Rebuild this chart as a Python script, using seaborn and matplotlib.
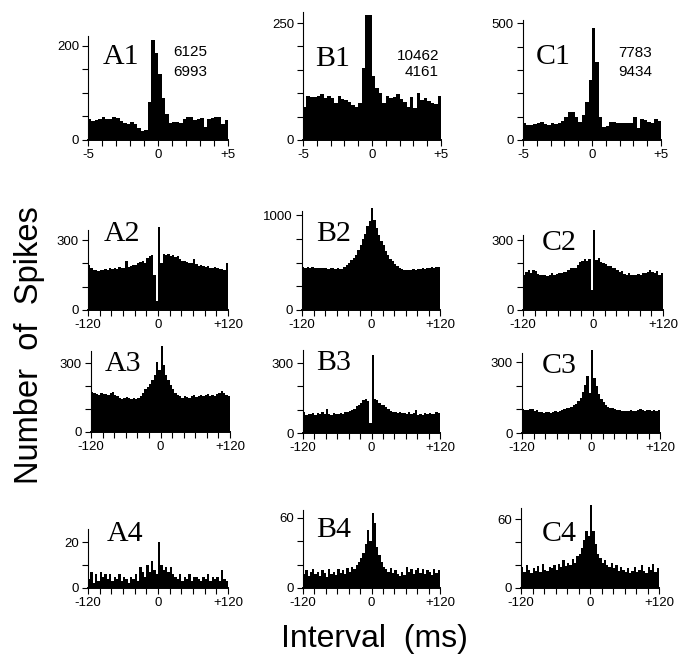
import numpy as np
import pandas as pd
import matplotlib
matplotlib.use("Agg")
import matplotlib.pyplot as plt
import seaborn as sns

# ---------------- data (counts per bin) ----------------
# Row 1: interval -5..+5 ms, 40 bins
A1 = [45, 41, 42, 44, 50, 44, 45, 48, 46, 40, 36, 35, 38, 33, 26, 20, 21, 80, 212, 185,
      140, 90, 55, 36, 38, 39, 37, 45, 48, 50, 43, 45, 46, 28, 44, 47, 48, 50, 33, 42]
B1 = [71, 94, 91, 92, 93, 99, 90, 93, 89, 79, 95, 88, 86, 82, 75, 71, 79, 154, 268, 268,
      136, 111, 100, 79, 93, 89, 91, 98, 87, 82, 71, 91, 68, 100, 86, 89, 84, 80, 77, 94]
C1 = [74, 64, 66, 69, 74, 78, 70, 64, 71, 69, 72, 83, 100, 118, 121, 100, 79, 107, 164, 257,
      479, 336, 100, 57, 60, 79, 75, 74, 71, 74, 74, 72, 97, 50, 89, 85, 79, 74, 89, 83]
# Rows 2-4: interval -120..+120 ms, 60 bins
A2 = [195, 178, 172, 170, 168, 172, 170, 174, 172, 178, 176, 180, 175, 184, 180, 178, 212, 186, 190, 194,
      192, 200, 205, 210, 203, 224, 232, 235, 150, 40, 357, 200, 238, 236, 240, 232, 236, 226, 230, 220,
      212, 208, 205, 200, 203, 218, 196, 190, 192, 188, 186, 190, 182, 180, 184, 178, 176, 175, 172, 200]
B2 = [450, 445, 448, 440, 452, 443, 446, 438, 447, 440, 444, 436, 442, 438, 434, 440, 432, 436, 448, 470,
      500, 525, 545, 580, 630, 680, 745, 800, 880, 940, 1075, 950, 860, 790, 730, 680, 620, 580, 540, 515,
      480, 460, 445, 428, 420, 418, 425, 422, 430, 426, 434, 428, 440, 436, 442, 438, 452, 446, 455, 450]
C2 = [150, 165, 172, 160, 170, 168, 155, 150, 148, 152, 146, 150, 158, 148, 155, 160, 158, 165, 162, 172,
      178, 182, 180, 195, 205, 210, 218, 212, 220, 85, 343, 215, 225, 205, 200, 198, 190, 188, 180, 178,
      170, 165, 168, 155, 152, 158, 150, 148, 152, 155, 150, 160, 158, 165, 170, 162, 160, 168, 150, 158]
A3 = [175, 168, 165, 162, 170, 164, 166, 160, 168, 172, 162, 158, 150, 145, 148, 152, 146, 142, 150, 145,
      148, 156, 170, 188, 196, 210, 225, 250, 305, 270, 372, 290, 250, 225, 205, 185, 170, 162, 155, 150,
      158, 152, 148, 155, 160, 152, 158, 162, 155, 160, 165, 158, 162, 156, 165, 170, 178, 168, 162, 158]
B3 = [90, 78, 82, 80, 85, 76, 84, 80, 88, 82, 104, 80, 78, 84, 80, 82, 86, 80, 88, 92,
      96, 100, 105, 115, 122, 128, 140, 145, 138, 45, 336, 145, 140, 128, 120, 118, 110, 102, 96, 92,
      90, 86, 88, 84, 85, 80, 88, 82, 84, 100, 78, 82, 76, 84, 80, 86, 82, 80, 88, 84]
C3 = [100, 96, 98, 102, 100, 95, 98, 90, 88, 86, 88, 90, 86, 88, 92, 90, 95, 98, 100, 104,
      108, 112, 118, 125, 135, 150, 175, 205, 240, 170, 354, 235, 200, 165, 145, 130, 120, 112, 108, 104,
      100, 98, 96, 95, 94, 92, 95, 96, 92, 94, 97, 100, 96, 94, 98, 96, 95, 98, 94, 96]
A4 = [4, 7, 2, 6, 3, 7, 5, 6, 4, 6, 3, 5, 4, 6, 3, 5, 4, 2, 5, 4,
      6, 3, 9, 7, 5, 10, 7, 12, 8, 6, 20, 10, 8, 9, 7, 9, 6, 5, 4, 6,
      3, 5, 4, 6, 3, 5, 5, 4, 3, 5, 4, 6, 3, 5, 4, 5, 3, 8, 4, 3]
B4 = [12, 15, 10, 14, 16, 12, 14, 10, 15, 13, 9, 16, 12, 14, 11, 16, 13, 15, 12, 17,
      14, 18, 16, 20, 22, 26, 30, 38, 50, 40, 64, 56, 35, 28, 22, 18, 16, 14, 17, 13,
      15, 12, 10, 14, 11, 18, 14, 16, 12, 15, 17, 13, 16, 12, 15, 14, 11, 16, 13, 15]
C4 = [18, 14, 20, 16, 13, 17, 15, 19, 14, 21, 16, 15, 18, 17, 20, 16, 21, 18, 24, 19,
      22, 20, 25, 22, 28, 30, 35, 42, 50, 45, 72, 50, 38, 30, 26, 22, 24, 20, 18, 22,
      17, 20, 15, 18, 16, 14, 17, 13, 15, 18, 14, 16, 20, 15, 13, 18, 16, 21, 14, 17]

COUNTS = {"A1": ["6125", "6993"], "B1": ["10462", "4161"], "C1": ["7783", "9434"]}
XT_SHORT = ["-5", "0", "+5"]
XT_LONG = ["-120", "0", "+120"]

# ---------------- layout ----------------
W, H = 688, 654
sns.set_style("ticks")
plt.rcParams['font.family'] = ['Liberation Sans', 'DejaVu Sans']
plt.rcParams['text.color'] = 'black'
plt.rcParams['axes.labelcolor'] = 'black'
plt.rcParams['xtick.color'] = 'black'
plt.rcParams['ytick.color'] = 'black'
fig = plt.figure(figsize=(W / 100, H / 100), dpi=100)

panels = [
    ("A1", A1, -5, 5, 88, 228, 140, 0.470, 221, 50, 200, 1, (103, 64)),
    ("B1", B1, -5, 5, 303, 441, 140, 0.468, 273, 50, 250, 1, (315, 66)),
    ("C1", C1, -5, 5, 523, 661, 140, 0.2334, 514, 100, 500, 1, (536, 64)),
    ("A2", A2, -120, 120, 88, 228, 310, 0.2333, 343, 100, 300, 20, (104, 241)),
    ("B2", B2, -120, 120, 302, 440, 310, 0.095, 1040, 250, 1000, 20, (316, 241)),
    ("C2", C2, -120, 120, 523, 663, 310, 0.2333, 321, 100, 300, 20, (542, 250)),
    ("A3", A3, -120, 120, 91, 230, 432, 0.230, 352, 100, 300, 20, (105, 371)),
    ("B3", B3, -120, 120, 303, 440, 433, 0.2333, 355, 100, 300, 20, (316, 370)),
    ("C3", C3, -120, 120, 522, 660, 433, 0.2357, 340, 100, 300, 20, (542, 373)),
    ("A4", A4, -120, 120, 88, 228, 588, 2.28, 25.9, 10, 20, 20, (107, 541)),
    ("B4", B4, -120, 120, 303, 440, 588, 1.167, 67, 20, 60, 20, (316, 537)),
    ("C4", C4, -120, 120, 521, 659, 588, 1.15, 69.5, 20, 60, 20, (542, 541)),
]

for (name, vals, lo, hi, x0, x1, y0, ppu, spine_top, ystep, ylab_top, xstep, lpos) in panels:
    ymax = max(spine_top, max(vals)) * 1.002
    top_px = y0 - ppu * ymax
    ax = fig.add_axes([x0 / W, 1 - y0 / H, (x1 - x0) / W, (y0 - top_px) / H])
    n = len(vals)
    width = (hi - lo) / n
    centers = lo + width * (np.arange(n) + 0.5)
    df = pd.DataFrame({"t": centers, "count": np.asarray(vals, dtype=float)})
    sns.histplot(data=df, x="t", weights="count", bins=n, binrange=(lo, hi), element="step",
                 fill=True, color="black", alpha=1, linewidth=0, ax=ax)
    ax.set_xlim(lo, hi)
    ax.set_ylim(0, ymax)
    ax.set_xlabel("")
    ax.set_ylabel("")
    ax.set_facecolor("none")
    for s in ["top", "right"]:
        ax.spines[s].set_visible(False)
    ax.spines["left"].set_bounds(0, spine_top)
    ax.spines["left"].set_linewidth(0.8)
    ax.spines["left"].set_color("black")
    ax.spines["bottom"].set_linewidth(1.4)
    ax.spines["bottom"].set_color("black")
    xt = np.arange(lo, hi + xstep / 2, xstep)
    short = XT_SHORT if hi == 5 else XT_LONG
    xl = [""] * len(xt)
    xl[0], xl[len(xt) // 2], xl[-1] = short
    ax.set_xticks(xt)
    ax.set_xticklabels(xl)
    yt = np.arange(0, ylab_top + ystep / 2, ystep)
    yl = [""] * len(yt)
    yl[0] = "0"
    yl[-1] = str(ylab_top)
    ax.set_yticks(yt)
    ax.set_yticklabels(yl)
    ax.tick_params(axis="both", direction="out", length=4, width=0.8,
                   labelsize=9.5, pad=2.5, color="black", labelcolor="black")
    fig.text(lpos[0] / W, 1 - lpos[1] / H, name, family=["Liberation Serif", "DejaVu Serif"],
             fontsize=21.5, ha="left", va="baseline", color="black")

fig.text(207 / W, 1 - 56.5 / H, COUNTS["A1"][0], fontsize=11, ha="right", va="baseline")
fig.text(207 / W, 1 - 76.5 / H, COUNTS["A1"][1], fontsize=11, ha="right", va="baseline")
fig.text(439 / W, 1 - 59.5 / H, COUNTS["B1"][0], fontsize=11, ha="right", va="baseline")
fig.text(439 / W, 1 - 76.5 / H, COUNTS["B1"][1], fontsize=11, ha="right", va="baseline")
fig.text(652 / W, 1 - 57 / H, COUNTS["C1"][0], fontsize=11, ha="right", va="baseline")
fig.text(652 / W, 1 - 76 / H, COUNTS["C1"][1], fontsize=11, ha="right", va="baseline")

fig.text(30 / W, 1 - 345 / H, "Number  of  Spikes", rotation=90, fontsize=23.5,
         ha="center", va="center")
fig.text(374 / W, 1 - 647 / H, "Interval  (ms)", fontsize=23, ha="center", va="baseline")

fig.savefig("out.png", dpi=100)
